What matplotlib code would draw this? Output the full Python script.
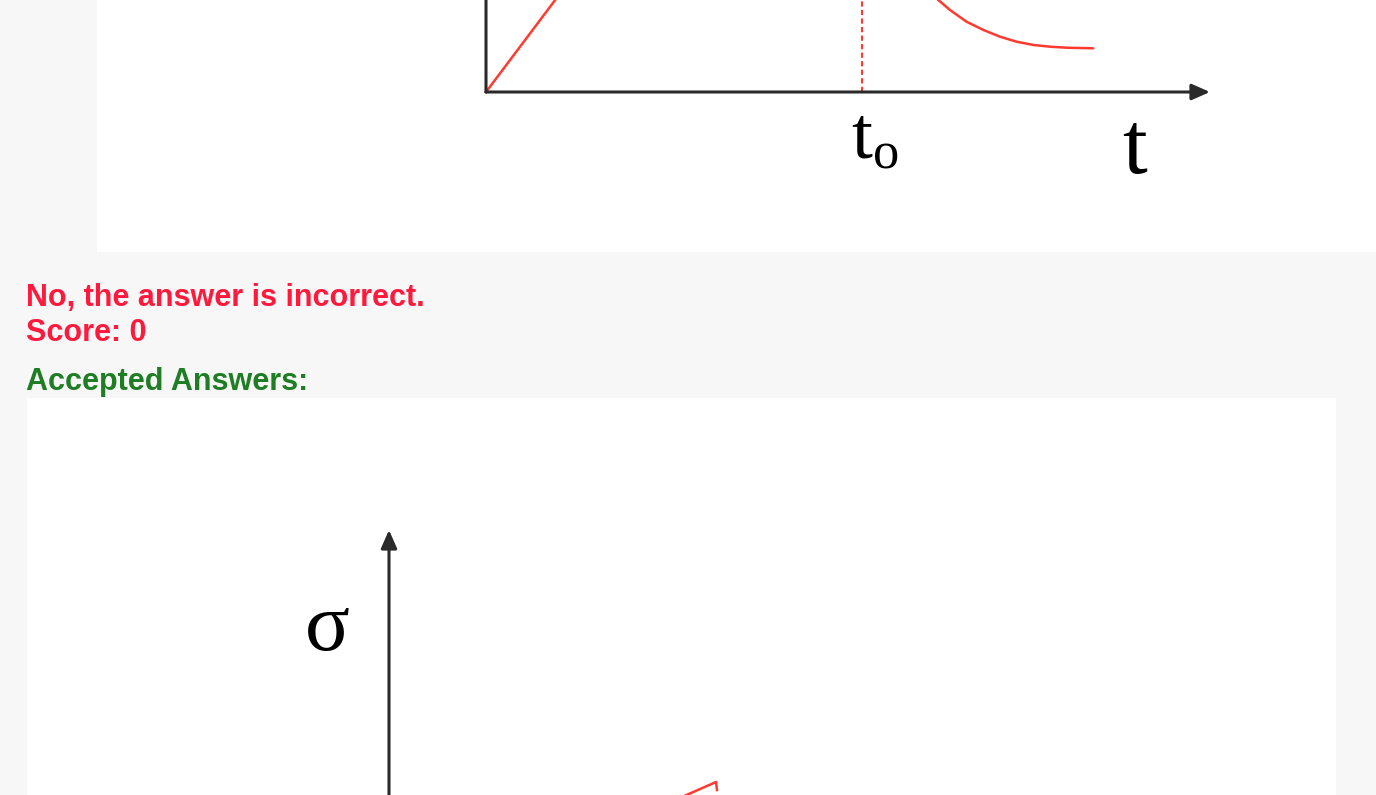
import matplotlib
matplotlib.use("Agg")
import matplotlib.pyplot as plt

# figure size in pixels
W, H = 1376, 795

# loading curve drawn as the answer (top panel), t in units of t0
ans_rise_t = [0.0, 0.25]
ans_rise_s = [0.0, 1.25]
t0 = 1.0
ans_decay_t = [1.168, 1.203, 1.234, 1.278, 1.323, 1.367, 1.411, 1.456, 1.500, 1.544, 1.615]
ans_decay_s = [1.07, 0.92, 0.82, 0.703, 0.62, 0.553, 0.503, 0.47, 0.453, 0.443, 0.437]

# accepted answer curve (bottom panel)
key_t = [0.0, 1.0, 1.003]
key_s = [0.0, 1.44, 1.36]

feedback_lines = ["No, the answer is incorrect.", "Score: 0"]
accepted_label = "Accepted Answers:"

RED = "#ff3b30"
AXIS = "#2a2a2a"
SERIF = "Liberation Serif"
SANS = "Liberation Sans"

plt.rcParams["mathtext.fontset"] = "custom"
plt.rcParams["mathtext.rm"] = SERIF
plt.rcParams["mathtext.it"] = SERIF + ":italic"


def px_axes(fig, left, top, width, height):
    """Add an axes placed in pixel units measured from the top-left corner."""
    return fig.add_axes([left / W, (H - top - height) / H, width / W, height / H])


def draw_arrow_axes(ax, xmax, ymax, show_x=True):
    """Draw the t and sigma axes as arrows starting at the origin."""
    style = dict(arrowstyle="-|>,head_length=0.5,head_width=0.22", lw=2.2, color=AXIS,
                 mutation_scale=22, shrinkA=0, shrinkB=0)
    if show_x:
        ax.annotate("", xy=(xmax, 0), xytext=(0, 0), arrowprops=style,
                    annotation_clip=False)
    ax.annotate("", xy=(0, ymax), xytext=(0, 0), arrowprops=style,
                annotation_clip=False)


fig = plt.figure(figsize=(W / 100, H / 100), dpi=100, facecolor="#f7f7f7")

# white panels behind each diagram
for left, top, width, height in [(97, 0, W - 97, 252), (27, 398, 1336 - 27, H - 398)]:
    panel = px_axes(fig, left, top, width, height)
    panel.set_facecolor("white")
    panel.set_xticks([])
    panel.set_yticks([])
    for s in panel.spines.values():
        s.set_visible(False)

# top diagram: origin at (486, 92) px, 376 px per t unit, 100 px per sigma unit
top_ax = px_axes(fig, 486, 92 - 200, 724, 200)
top_ax.set_xlim(0, 724 / 376)
top_ax.set_ylim(0, 2.0)
top_ax.axis("off")
draw_arrow_axes(top_ax, 724 / 376, 2.0)
top_ax.plot(ans_rise_t, ans_rise_s, color=RED, lw=1.8, clip_on=False)
top_ax.plot([t0, t0], [0, 2.0], color=RED, lw=1.5, linestyle=(0, (2.5, 1.6)), clip_on=False)
top_ax.plot(ans_decay_t, ans_decay_s, color=RED, lw=1.8, clip_on=False,
            solid_capstyle="round")
top_ax.text(1.035, -0.46, r"$\mathrm{t_o}$", fontsize=54, ha="center", va="center",
            clip_on=False)
top_ax.text(1.726, -0.6, "t", family=SERIF, fontsize=64, ha="center", va="center",
            clip_on=False)

# feedback text
text_style = dict(family=SANS, fontsize=22, fontweight="bold", va="baseline")
fig.text(26 / W, 1 - 306 / H, feedback_lines[0], color="#ff1a3d", **text_style)
fig.text(26 / W, 1 - 341 / H, feedback_lines[1], color="#ff1a3d", **text_style)
fig.text(26 / W, 1 - 390 / H, accepted_label, color="#1f7d24", **text_style)

# bottom diagram: origin below the visible area at (389, 926) px
bot_ax = px_axes(fig, 389, 926 - 396, 700, 396)
bot_ax.set_xlim(0, 700 / 327)
bot_ax.set_ylim(0, 3.96)
bot_ax.axis("off")
draw_arrow_axes(bot_ax, 700 / 327, 3.96, show_x=False)
bot_ax.plot(key_t, key_s, color=RED, lw=1.8, clip_on=False)
bot_ax.text(-0.19, 2.96, "σ", family=SERIF, fontsize=60, ha="center", va="center",
            clip_on=False)

fig.savefig("out.png", dpi=100, facecolor=fig.get_facecolor())
